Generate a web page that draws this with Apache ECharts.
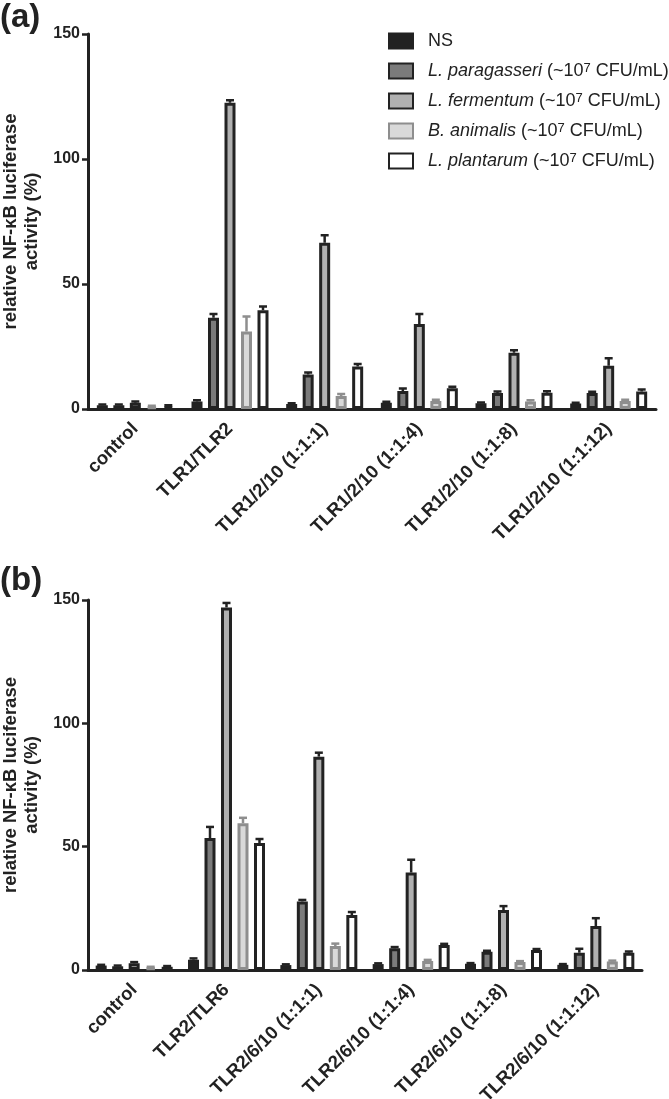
<!DOCTYPE html>
<html>
<head>
<meta charset="utf-8">
<script src="https://cdn.jsdelivr.net/npm/echarts@6/dist/echarts.min.js"></script>
<style>
html,body{margin:0;padding:0;background:#fff;}
#chart{width:669px;height:1099px;}
</style>
</head>
<body>
<div id="chart"></div>
<script>
// ---------- data ----------
const categoriesA = ['control', 'TLR1/TLR2', 'TLR1/2/10 (1:1:1)', 'TLR1/2/10 (1:1:4)', 'TLR1/2/10 (1:1:8)', 'TLR1/2/10 (1:1:12)'];
const categoriesB = ['control', 'TLR2/TLR6', 'TLR2/6/10 (1:1:1)', 'TLR2/6/10 (1:1:4)', 'TLR2/6/10 (1:1:8)', 'TLR2/6/10 (1:1:12)'];
const seriesNames = ['NS', 'L. paragasseri', 'L. fermentum', 'B. animalis', 'L. plantarum'];
const yTicks = [0, 50, 100, 150];

// panel (a) means
const aNS    = [1.5, 3.0, 2.0, 2.5, 2.3, 2.2];
const aPara  = [1.5, 36.5, 13.8, 7.2, 6.4, 6.4];
const aFerm  = [2.5, 122.5, 66.5, 34.0, 22.5, 17.3];
const aAnim  = [1.0, 31.0, 5.2, 3.2, 3.0, 3.2];
const aPlant = [1.2, 39.5, 17.0, 8.3, 6.5, 7.0];
// panel (a) errors (upper SEM)
const aNSErr    = [0.3, 0.5, 0.3, 0.4, 0.3, 0.3];
const aParaErr  = [0.3, 1.5, 0.8, 1.0, 0.6, 0.5];
const aFermErr  = [0.5, 1.0, 3.0, 4.0, 1.0, 3.0];
const aAnimErr  = [0.3, 6.0, 0.8, 0.5, 0.5, 0.5];
const aPlantErr = [0.3, 1.5, 1.0, 0.6, 0.6, 0.8];

// panel (b) means
const bNS    = [1.8, 4.2, 2.0, 2.4, 2.5, 2.1];
const bPara  = [1.5, 53.5, 27.8, 8.8, 7.4, 7.0];
const bFerm  = [2.7, 147.0, 86.5, 39.5, 24.3, 17.8];
const bAnim  = [1.0, 59.5, 9.7, 3.6, 3.2, 3.4];
const bPlant = [1.3, 51.5, 22.3, 10.1, 8.1, 7.0];
// panel (b) errors
const bNSErr    = [0.3, 0.5, 0.3, 0.3, 0.3, 0.3];
const bParaErr  = [0.3, 4.5, 0.6, 0.5, 0.4, 1.6];
const bFermErr  = [0.5, 1.8, 1.6, 5.2, 1.6, 3.2];
const bAnimErr  = [0.3, 2.2, 1.0, 0.5, 0.4, 0.4];
const bPlantErr = [0.3, 1.6, 1.2, 0.5, 0.4, 0.5];

// ---------- styling ----------
const INK = '#222222';
const fills   = ['#222222', '#7b7b7b', '#b0b0b0', '#d9d9d9', '#ffffff'];
const borders = [INK, INK, INK, '#8e8e8e', INK];
const BAR_W = 11;
const BAR_GAP = 0.5;
const STEP = BAR_W * (1 + BAR_GAP);
const FONT = 'Liberation Sans, Arial, Helvetica, sans-serif';

const panelA = { cats: categoriesA, vals: [aNS, aPara, aFerm, aAnim, aPlant], errs: [aNSErr, aParaErr, aFermErr, aAnimErr, aPlantErr] };
const panelB = { cats: categoriesB, vals: [bNS, bPara, bFerm, bAnim, bPlant], errs: [bNSErr, bParaErr, bFermErr, bAnimErr, bPlantErr] };

function errRender(k) {
  return function (params, api) {
    const cat = api.value(0), v = api.value(1), e = api.value(2);
    const b = api.coord([cat, v]);
    const t = api.coord([cat, v + e]);
    const x = b[0] + (k - 2) * STEP;
    const st = { stroke: borders[k], lineWidth: 2.5 };
    return {
      type: 'group',
      children: [
        { type: 'line', shape: { x1: x, y1: b[1], x2: x, y2: t[1] }, style: st },
        { type: 'line', shape: { x1: x - 4, y1: t[1], x2: x + 4, y2: t[1] }, style: st }
      ]
    };
  };
}

const grids = [
  { left: 88, top: 34, width: 568, height: 375, containLabel: false, outerBoundsMode: 'none' },
  { left: 88, top: 600, width: 554, height: 370, containLabel: false, outerBoundsMode: 'none' }
];

const xAxes = [panelA, panelB].map((p, gi) => ({
  type: 'category', gridIndex: gi, data: p.cats,
  axisLine: { lineStyle: { color: INK, width: 3 } },
  axisTick: { alignWithLabel: true, length: 7, lineStyle: { color: INK, width: 2.5 } },
  axisLabel: { rotate: 45, interval: 0, margin: 17, color: INK, fontWeight: 'bold', fontSize: 18.5, fontFamily: FONT }
}));

const yAxes = [0, 1].map(gi => ({
  type: 'value', gridIndex: gi, min: yTicks[0], max: yTicks[yTicks.length - 1], interval: yTicks[1] - yTicks[0],
  name: 'relative NF-\u03BAB luciferase\nactivity (%)',
  nameLocation: 'middle', nameGap: 46,
  nameTextStyle: { color: INK, fontWeight: 'bold', fontSize: 18.5, lineHeight: 21, fontFamily: FONT },
  axisLine: { show: true, lineStyle: { color: INK, width: 3 } },
  axisTick: { show: true, length: 6, lineStyle: { color: INK, width: 2.5 } },
  axisLabel: { margin: 8, color: INK, fontWeight: 'bold', fontSize: 16, fontFamily: FONT },
  splitLine: { show: false }
}));

const series = [];
[panelA, panelB].forEach((p, gi) => {
  seriesNames.forEach((name, k) => {
    series.push({
      type: 'bar', name: name, xAxisIndex: gi, yAxisIndex: gi,
      data: p.vals[k], barWidth: BAR_W, barGap: (BAR_GAP * 100) + '%',
      itemStyle: { color: fills[k], borderColor: borders[k], borderWidth: 3 },
      emphasis: { disabled: true }, z: 2
    });
  });
  seriesNames.forEach((name, k) => {
    series.push({
      type: 'custom', xAxisIndex: gi, yAxisIndex: gi, z: 3,
      renderItem: errRender(k),
      data: p.cats.map((c, i) => [i, p.vals[k][i], p.errs[k][i]]),
      silent: true
    });
  });
});

const option = {
  animation: false,
  backgroundColor: '#ffffff',
  title: [
    { text: '(a)', left: 0, top: 0, padding: [1, 0, 0, 0], textStyle: { color: INK, fontWeight: 'bold', fontSize: 33, fontFamily: FONT } },
    { text: '(b)', left: 0, top: 563, padding: [1, 0, 0, 0], textStyle: { color: INK, fontWeight: 'bold', fontSize: 33, fontFamily: FONT } }
  ],
  legend: {
    data: seriesNames, orient: 'vertical', left: 383, top: 27,
    icon: 'rect', itemWidth: 24, itemHeight: 15, itemGap: 12,
    selectedMode: false,
    formatter: function (name) {
      if (name === 'NS') return '{n|NS}';
      return '{i|' + name + '}{n| (~10}{s|7}{n| CFU/mL)}';
    },
    textStyle: {
      color: INK, fontSize: 18, fontFamily: FONT, padding: [0, 0, 0, 10],
      rich: {
        n: { fontSize: 18, fontFamily: FONT, color: INK },
        i: { fontSize: 18, fontFamily: FONT, fontStyle: 'italic', color: INK },
        s: { fontSize: 13, fontFamily: FONT, color: INK, verticalAlign: 'top' }
      }
    }
  },
  grid: grids,
  xAxis: xAxes,
  yAxis: yAxes,
  series: series
};

const chart = echarts.init(document.getElementById('chart'), null, { renderer: 'canvas' });
chart.setOption(option);
</script>
</body>
</html>
